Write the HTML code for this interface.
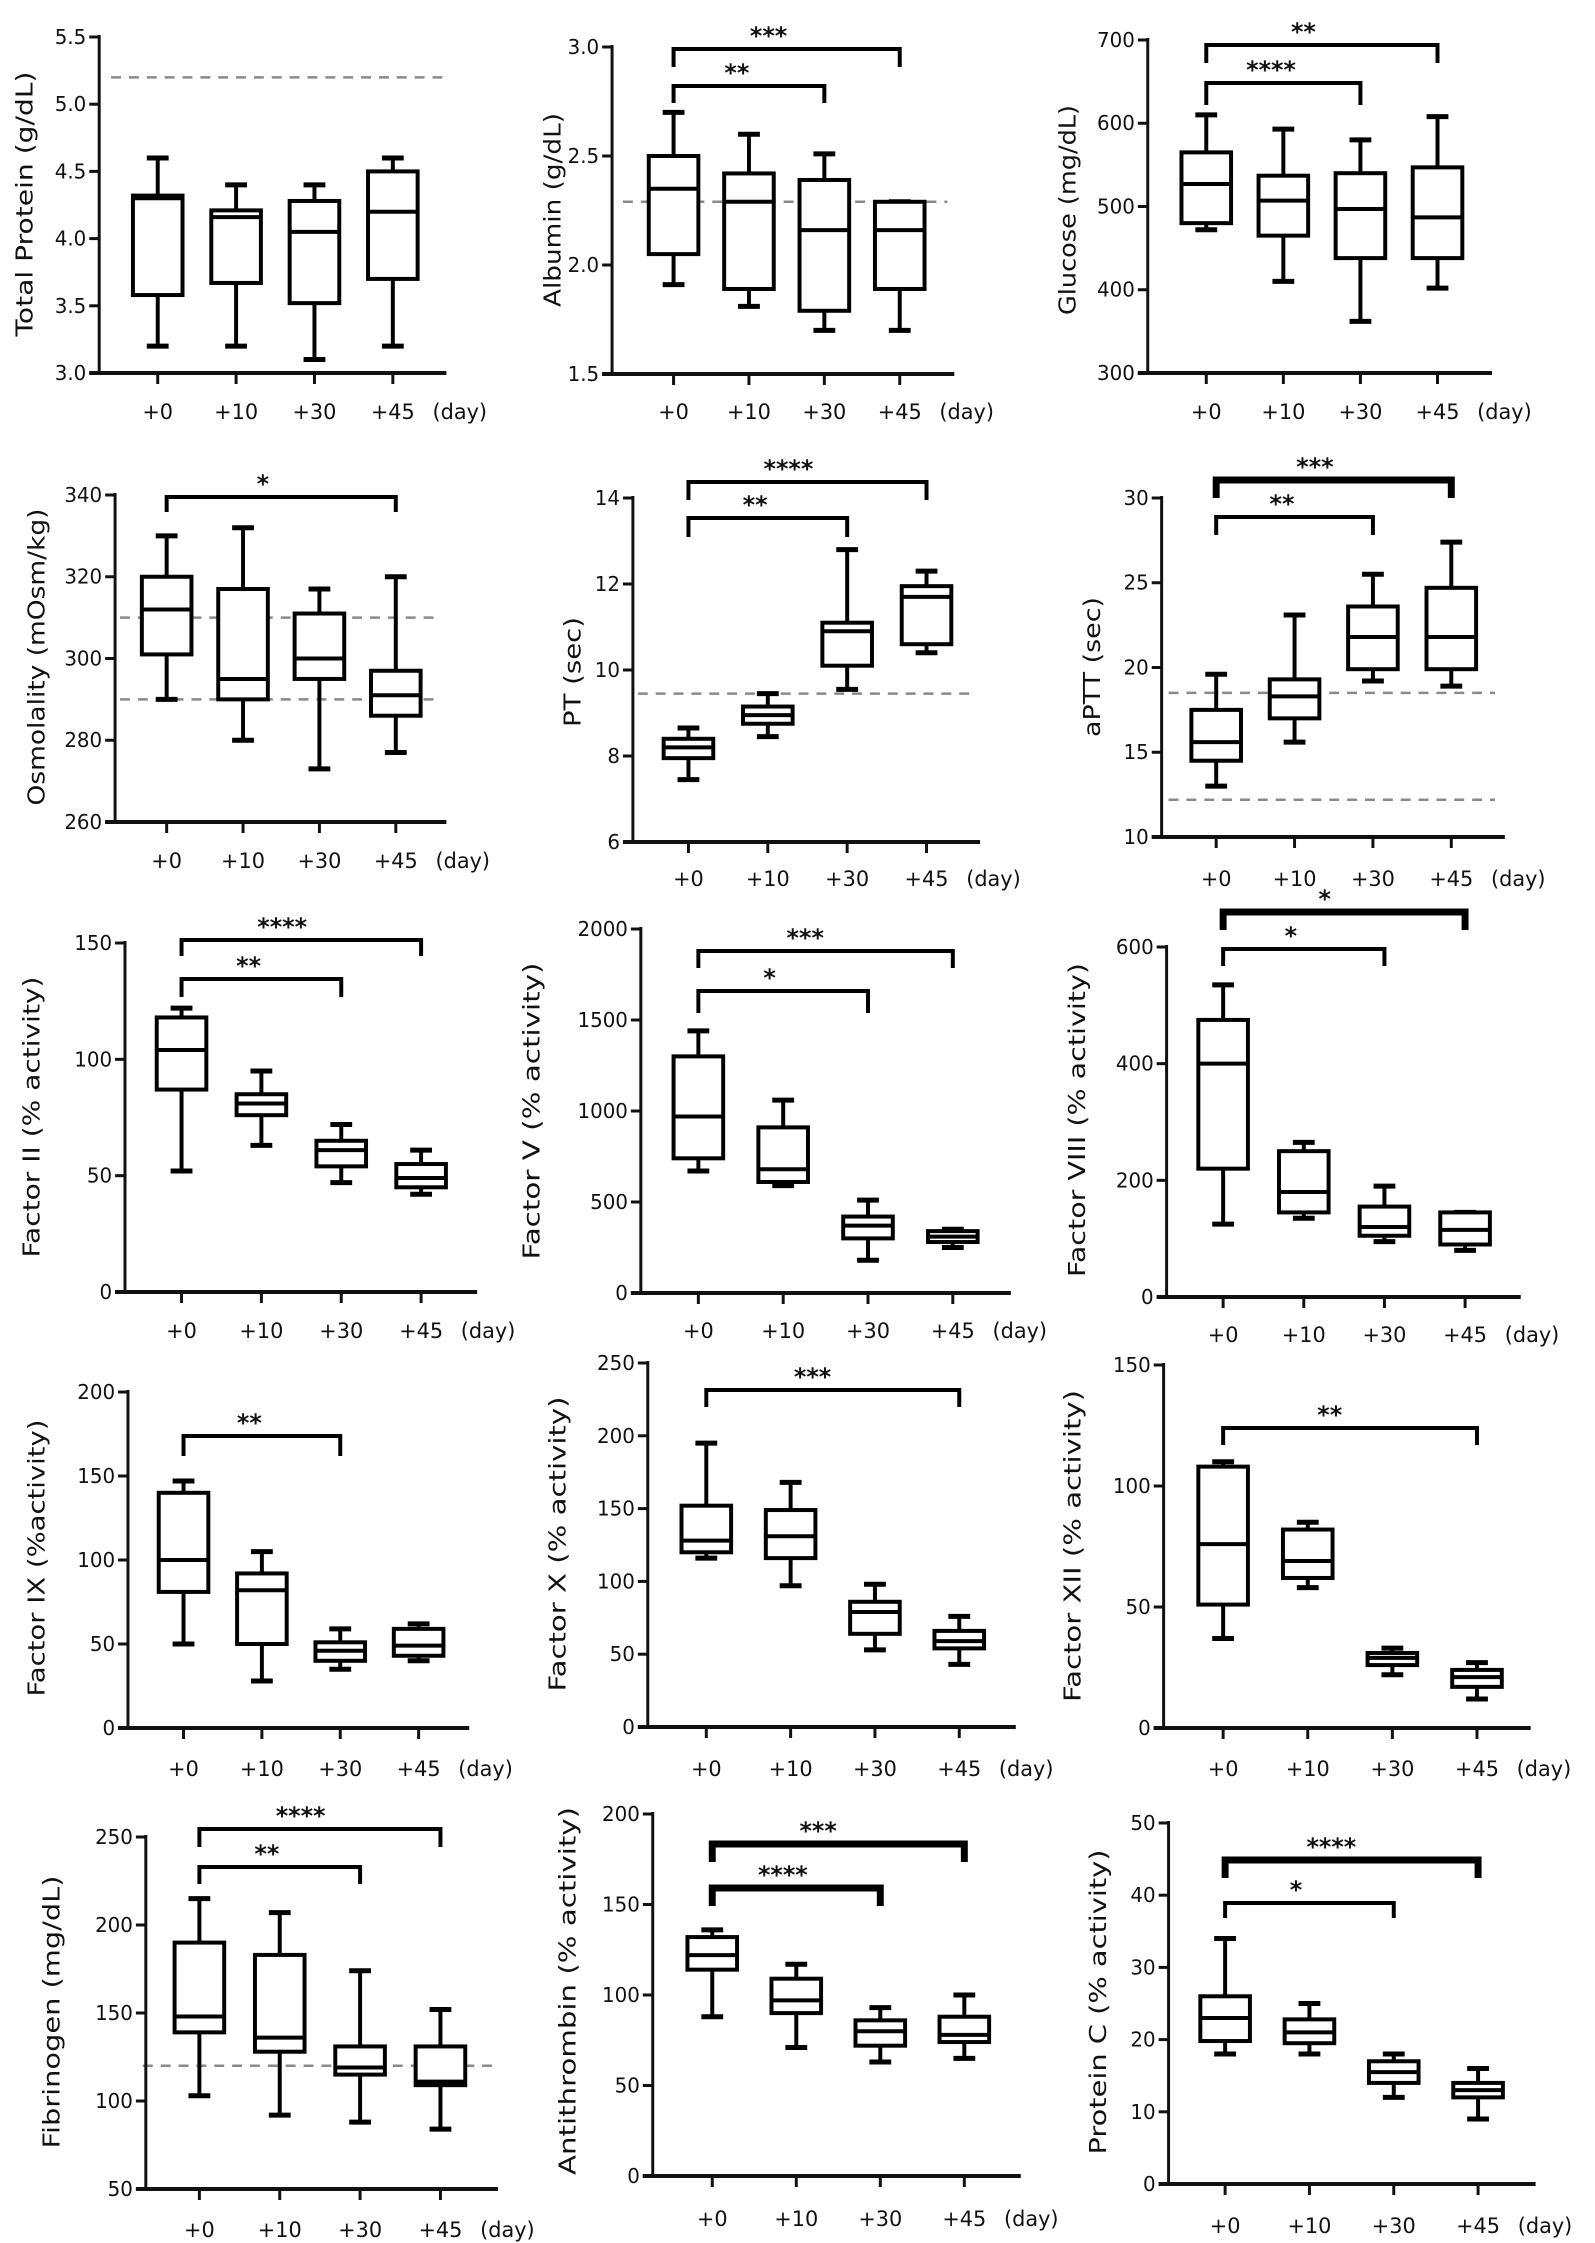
<!DOCTYPE html>
<html><head><meta charset="utf-8"><title>Box plots</title>
<style>
html,body{margin:0;padding:0;background:#fff;}
svg{display:block;}
text{font-family:"DejaVu Sans","Liberation Sans",sans-serif;fill:#111;}
</style></head>
<body>
<svg id="fig" xmlns="http://www.w3.org/2000/svg" width="1595" height="2243" viewBox="0 0 1595 2243">
<rect width="1595" height="2243" fill="#fff"/>
<g id="root" transform="scale(0.992,1)"></g>
</svg>
<script>
// ---- data ----
const categories = ['+0', '+10', '+30', '+45'];
// each entry: [min, q1, median, q3, max]
const totalProtein = [[3.2,3.58,4.3,4.32,4.6],[3.2,3.67,4.16,4.21,4.4],[3.1,3.52,4.05,4.28,4.4],[3.2,3.7,4.2,4.5,4.6]];
const albumin = [[1.91,2.05,2.35,2.5,2.7],[1.81,1.89,2.29,2.42,2.6],[1.7,1.79,2.16,2.39,2.51],[1.7,1.89,2.16,2.29,2.29]];
const glucose = [[472,480,527,565,610],[410,465,507,537,593],[362,438,497,540,580],[402,438,487,547,608]];
const osmolality = [[290,301,312,320,330],[280,290,295,317,332],[273,295,300,311,317],[277,286,291,297,320]];
const pt = [[7.45,7.95,8.2,8.4,8.65],[8.45,8.75,8.95,9.15,9.45],[9.55,10.1,10.9,11.1,12.8],[10.4,10.6,11.7,11.95,12.3]];
const aptt = [[13,14.5,15.6,17.5,19.6],[15.6,17,18.3,19.3,23.1],[19.2,19.9,21.8,23.6,25.5],[18.9,19.9,21.8,24.7,27.4]];
const factorII = [[52,87,104,118,122],[63,76,81,85,95],[47,54,61,65,72],[42,45,49,55,61]];
const factorV = [[670,740,970,1300,1440],[590,610,680,910,1060],[180,300,370,420,510],[250,280,310,340,350]];
const factorVIII = [[125,220,400,475,535],[135,145,180,250,265],[95,105,120,155,190],[80,90,115,145,145]];
const factorIX = [[50,81,100,140,147],[28,50,82,92,105],[35,40,46,51,59],[40,43,49,59,62]];
const factorX = [[116,120,128,152,195],[97,116,131,149,168],[53,64,79,86,98],[43,54,59,66,76]];
const factorXII = [[37,51,76,108,110],[58,62,69,82,85],[22,26,29,31,33],[12,17,21,24,27]];
const fibrinogen = [[103,139,148,190,215],[92,128,136,183,207],[88,115,119,131,174],[84,109,111,131,152]];
const antithrombin = [[88,114,122,132,136],[71,90,97,109,117],[63,72,80,86,93],[65,74,78,88,100]];
const proteinC = [[18,19.8,23,26,34],[18,19.5,21,22.8,25],[12,14,15.5,17,18],[9,12,13,14,16]];
// tick values
const tpTicks = [3.0,3.5,4.0,4.5,5.0,5.5];
const albTicks = [1.5,2.0,2.5,3.0];
const gluTicks = [300,400,500,600,700];
const osmTicks = [260,280,300,320,340];
const ptTicks = [6,8,10,12,14];
const apttTicks = [10,15,20,25,30];
const f2Ticks = [0,50,100,150];
const f5Ticks = [0,500,1000,1500,2000];
const f8Ticks = [0,200,400,600];
const f9Ticks = [0,50,100,150,200];
const f10Ticks = [0,50,100,150,200,250];
const f12Ticks = [0,50,100,150];
const fibTicks = [50,100,150,200,250];
const atTicks = [0,50,100,150,200];
const pcTicks = [0,10,20,30,40,50];
// reference (dashed) lines
const tpRef = [5.2];
const albRef = [2.29];
const osmRef = [310,290];
const ptRef = [9.45];
const apttRef = [18.5,12.2];
const fibRef = [120];
// significance brackets: [fromIndex, toIndex, label]
const albSig = [[0,3,'***'],[0,2,'**']];
const gluSig = [[0,3,'**'],[0,2,'****']];
const osmSig = [[0,3,'*']];
const ptSig = [[0,3,'****'],[0,2,'**']];
const apttSig = [[0,3,'***'],[0,2,'**']];
const f2Sig = [[0,3,'****'],[0,2,'**']];
const f5Sig = [[0,3,'***'],[0,2,'*']];
const f8Sig = [[0,3,'*'],[0,2,'*']];
const f9Sig = [[0,2,'**']];
const f10Sig = [[0,3,'***']];
const f12Sig = [[0,3,'**']];
const fibSig = [[0,3,'****'],[0,2,'**']];
const atSig = [[0,3,'***'],[0,2,'****']];
const pcSig = [[0,3,'****'],[0,2,'*']];

// ---- layout ----
const panels = [
 {name:'total-protein',title:'Total Protein (g/dL)',data:totalProtein,ticks:tpTicks,dec:1,ref:tpRef,refX:[112,447],sig:[],sigY:[],ax:100,yT:37,vT:5.5,yB:373,vB:3.0,c0:159,step:79,end:450,labY:411,tx:24,ty:204,tl:265},
 {name:'albumin',title:'Albumin (g/dL)',data:albumin,ticks:albTicks,dec:1,ref:albRef,refX:[628,955],sig:albSig,sigY:[[49,67],[86,103]],ax:617,yT:47,vT:3.0,yB:374,vB:1.5,c0:679,step:76,end:962,labY:411,tx:556,ty:210,tl:194},
 {name:'glucose',title:'Glucose (mg/dL)',data:glucose,ticks:gluTicks,dec:0,ref:[],sig:gluSig,sigY:[[45,63],[83,105]],ax:1157,yT:40,vT:700,yB:373,vB:300,c0:1216,step:77.7,end:1504,labY:411,tx:1075,ty:210,tl:210},
 {name:'osmolality',title:'Osmolality (mOsm/kg)',data:osmolality,ticks:osmTicks,dec:0,ref:osmRef,refX:[121,442],sig:osmSig,sigY:[[497,512]],ax:116,yT:495,vT:340,yB:822,vB:260,c0:168,step:77,end:450,labY:860,tx:36,ty:657,tl:297},
 {name:'pt',title:'PT (sec)',data:pt,ticks:ptTicks,dec:0,ref:ptRef,refX:[643,982],sig:ptSig,sigY:[[482,500],[518,537]],ax:638,yT:498,vT:14,yB:842,vB:6,c0:694,step:80,end:988,labY:878,tx:576,ty:672,tl:110},
 {name:'aptt',title:'aPTT (sec)',data:aptt,ticks:apttTicks,dec:0,ref:apttRef,refX:[1178,1507],sig:apttSig,sigY:[[480,498],[517,535]],thick:[true,false],ax:1171,yT:498,vT:30,yB:837,vB:10,c0:1226,step:79,end:1517,labY:878,tx:1100,ty:667,tl:140},
 {name:'factor-ii',title:'Factor II (% activity)',data:factorII,ticks:f2Ticks,dec:0,ref:[],sig:f2Sig,sigY:[[940,956],[979,997]],ax:126,yT:943,vT:150,yB:1292,vB:0,c0:183,step:80.5,end:481,labY:1330,tx:31,ty:1117,tl:281},
 {name:'factor-v',title:'Factor V (% activity)',data:factorV,ticks:f5Ticks,dec:0,ref:[],sig:f5Sig,sigY:[[951,968],[991,1013]],ax:646,yT:929,vT:2000,yB:1293,vB:0,c0:704,step:85.5,end:1019,labY:1330,tx:535,ty:1111,tl:297},
 {name:'factor-viii',title:'Factor VIII (% activity)',data:factorVIII,ticks:f8Ticks,dec:0,ref:[],sig:f8Sig,sigY:[[912,930],[949,966]],thick:[true,false],ax:1176,yT:947,vT:600,yB:1297,vB:0,c0:1233,step:81.3,end:1533,labY:1334,tx:1085,ty:1120,tl:314},
 {name:'factor-ix',title:'Factor IX (%activity)',data:factorIX,ticks:f9Ticks,dec:0,ref:[],sig:f9Sig,sigY:[[1436,1456]],ax:129,yT:1392,vT:200,yB:1728,vB:0,c0:185,step:79,end:473,labY:1768,tx:36,ty:1558,tl:277},
 {name:'factor-x',title:'Factor X (% activity)',data:factorX,ticks:f10Ticks,dec:0,ref:[],sig:f10Sig,sigY:[[1390,1407]],ax:653,yT:1363,vT:250,yB:1727,vB:0,c0:712,step:85,end:1024,labY:1768,tx:561,ty:1544,tl:295},
 {name:'factor-xii',title:'Factor XII (% activity)',data:factorXII,ticks:f12Ticks,dec:0,ref:[],sig:f12Sig,sigY:[[1428,1445]],ax:1173,yT:1365,vT:150,yB:1728,vB:0,c0:1233,step:85.3,end:1543,labY:1768,tx:1080,ty:1546,tl:312},
 {name:'fibrinogen',title:'Fibrinogen  (mg/dL)',data:fibrinogen,ticks:fibTicks,dec:0,ref:fibRef,refX:[144,496],sig:fibSig,sigY:[[1829,1847],[1867,1884]],ax:147,yT:1837,vT:250,yB:2189,vB:50,c0:201,step:81,end:502,labY:2229,tx:51,ty:2012,tl:273},
 {name:'antithrombin',title:'Antithrombin (% activity)',data:antithrombin,ticks:atTicks,dec:0,ref:[],sig:atSig,sigY:[[1844,1862],[1888,1906]],thick:[true,true],ax:658,yT:1814,vT:200,yB:2176,vB:0,c0:718,step:84.7,end:1029,labY:2218,tx:571,ty:1991,tl:368},
 {name:'protein-c',title:'Protein C (% activity)',data:proteinC,ticks:pcTicks,dec:0,ref:[],sig:pcSig,sigY:[[1860,1878],[1903,1918]],thick:[true,false],ax:1178,yT:1823,vT:50,yB:2184,vB:0,c0:1235,step:85,end:1548,labY:2225,tx:1106,ty:2002,tl:305}
];

const NS = 'http://www.w3.org/2000/svg';
const root = document.getElementById('root');
function mk(tag, attrs, parent){
  const e = document.createElementNS(NS, tag);
  for (const k in attrs) e.setAttribute(k, attrs[k]);
  parent.appendChild(e);
  return e;
}

panels.forEach(p => {
  const g = mk('g', {}, root);
  
  
  const y = v => p.yB + (v - p.vB) * (p.yT - p.yB) / (p.vT - p.vB);
  const x = i => p.c0 + i * p.step;
  const bw = 50, cw = 22;

  // reference lines
  (p.ref || []).forEach(v => {
    const l = mk('line', {x1:p.refX[0], x2:p.refX[1], y1:y(v), y2:y(v), stroke:'#8a8a8a', 'stroke-width':2.5, 'stroke-dasharray':'10 8'}, g);
    
    
  });

  // axes
  const ya = mk('line', {x1:p.ax, x2:p.ax, y1:p.yT - 2, y2:p.yB, stroke:'#111', 'stroke-width':3}, g);
  
  
  const xa = mk('line', {x1:p.ax - 10, x2:p.end, y1:p.yB, y2:p.yB, stroke:'#111', 'stroke-width':4}, g);
  
  

  p.ticks.forEach(v => {
    mk('line', {x1:p.ax - 10, x2:p.ax, y1:y(v), y2:y(v), stroke:'#111', 'stroke-width':3}, g);
    const t = mk('text', {x:p.ax - 13, y:y(v) + 7, 'text-anchor':'end', 'font-size':20}, g);
    t.textContent = v.toFixed(p.dec);
    
    
  });

  categories.forEach((c, i) => {
    mk('line', {x1:x(i), x2:x(i), y1:p.yB, y2:p.yB + 11, stroke:'#111', 'stroke-width':3}, g);
    const t = mk('text', {x:x(i), y:p.labY + 8, 'text-anchor':'middle', 'font-size':21}, g);
    t.textContent = c;
    
    
  });
  const d = mk('text', {x:x(3) + 40, y:p.labY + 8, 'font-size':21}, g);
  d.textContent = '(day)';
  
  

  const tt = mk('text', {x:0, y:0, 'text-anchor':'middle', 'font-size':23, textLength:p.tl, lengthAdjust:'spacingAndGlyphs', transform:'translate(' + (p.tx + 9) + ',' + p.ty + ') rotate(-90)'}, g);
  tt.textContent = p.title;
  
  

  // boxes
  p.data.forEach((b, i) => {
    const bg = mk('g', {stroke:'#000', 'stroke-width':4, fill:'none'}, g);
    
    
    const cx = x(i);
    mk('line', {x1:cx, x2:cx, y1:y(b[0]), y2:y(b[1])}, bg);
    mk('line', {x1:cx, x2:cx, y1:y(b[3]), y2:y(b[4])}, bg);
    mk('line', {x1:cx - cw/2, x2:cx + cw/2, y1:y(b[0]), y2:y(b[0]), 'stroke-width':5}, bg);
    mk('line', {x1:cx - cw/2, x2:cx + cw/2, y1:y(b[4]), y2:y(b[4]), 'stroke-width':5}, bg);
    mk('rect', {x:cx - bw/2, y:y(b[3]), width:bw, height:Math.max(1, y(b[1]) - y(b[3])), fill:'#fff'}, bg);
    mk('line', {x1:cx - bw/2, x2:cx + bw/2, y1:y(b[2]), y2:y(b[2])}, bg);
  });

  // significance brackets
  p.sig.forEach((s, k) => {
    const sy = p.sigY[k];
    const thick = p.thick && p.thick[k];
    const sg = mk('g', {stroke:'#000', fill:'none', 'stroke-width':thick ? 7 : 4}, g);
    
    
    const x1 = x(s[0]), x2 = x(s[1]);
    mk('path', {d:'M' + x1 + ' ' + sy[1] + ' V' + sy[0] + ' H' + x2 + ' V' + sy[1]}, sg);
    const t = mk('text', {x:x1 + (x2 - x1) * 0.42, y:sy[0] - 5, 'text-anchor':'middle', 'font-size':24, 'font-weight':'bold'}, g);
    t.textContent = s[2];
    
    
  });
});
</script>
</body></html>
